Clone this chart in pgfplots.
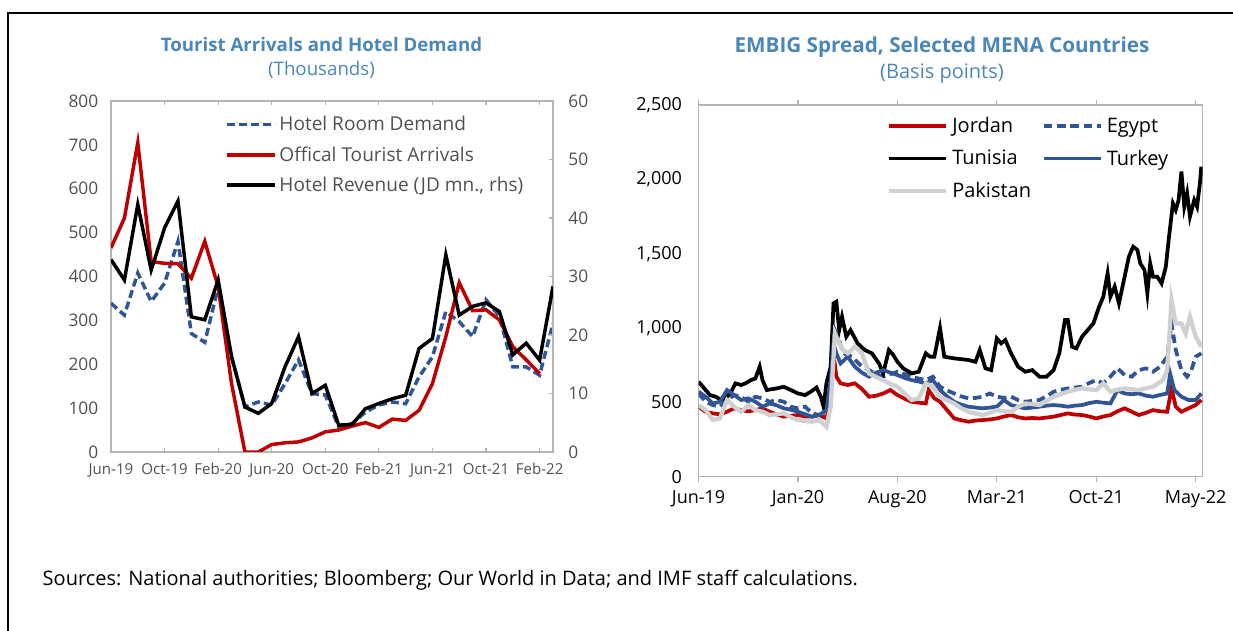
\documentclass[border=0pt]{standalone}
\usepackage{pgfplots}
\pgfplotsset{compat=1.18}
\usepackage{pgfplotstable}
\usepackage{fontspec}
\setmainfont{Open Sans}
\definecolor{tblue}{RGB}{74,134,186}
\definecolor{sred}{HTML}{C00000}
\definecolor{sblue}{HTML}{2F5597}
\definecolor{sgray}{HTML}{D0D0D0}
\definecolor{axgray}{HTML}{B4B4B4}
\definecolor{labgray}{HTML}{505050}

\pgfplotstableread{
i red blue black
0 465 339 32.9
1 533 312 29.4
2 705 408 42.3
3 434 343 31.1
4 430 385 38.3
5 429 480 42.9
6 396 270 23.1
7 480 250 22.6
8 377 375 29.4
9 156 217 16.3
10 0 103 7.7
11 0 114 6.6
12 17 107 8.3
13 21 156 14.6
14 23 210 19.7
15 32 133 10.0
16 46 130 11.4
17 50 57 4.6
18 59 65 4.7
19 67 91 7.4
20 56 107 8.3
21 75 114 9.1
22 72 110 9.7
23 95 171 17.7
24 156 217 19.4
25 263 320 33.7
26 386 297 23.4
27 322 263 24.9
28 324 347 25.5
29 301 309 24.0
30 240 194 16.6
31 210 194 18.6
32 179 175 15.7
33 nan 293 28.3
}\tourism

\begin{document}
\begin{tikzpicture}[x=0.75pt,y=0.75pt]
\useasboundingbox (0,0) rectangle (1233,631);
\draw[line width=1.8pt] (8,0) -- (8,618) -- (633,618);
\draw[line width=1.2pt] (633,618) -- (1233,618);

% titles
\node[font=\bfseries\fontsize{14}{16}\selectfont, text=tblue] at (321.5,586) {Tourist Arrivals and Hotel Demand};
\node[font=\fontsize{14}{16}\selectfont, text=tblue] at (321.5,561) {(Thousands)};
\node[font=\bfseries\fontsize{15.5}{18}\selectfont, text=tblue] at (942,584) {EMBIG Spread, Selected MENA Countries};
\node[font=\fontsize{15}{18}\selectfont, text=tblue] at (942,557) {(Basis points)};
\node[font=\fontsize{15}{17}\selectfont, anchor=west] at (38,51) {Sources: National authorities; Bloomberg; Our World in Data; and IMF staff calculations.};

% ---------- left chart, lhs
\begin{axis}[at={(83.25pt,134.25pt)}, anchor=south west, scale only axis,
  width=331.5pt, height=263.25pt,
  xmin=0, xmax=33, ymin=0, ymax=800,
  xtick={0,4,...,32},
  xticklabels={Jun-19,Oct-19,Feb-20,Jun-20,Oct-20,Feb-21,Jun-21,Oct-21,Feb-22},
  ytick={0,100,...,800},
  axis line style={draw=axgray, line width=0.9pt},
  xtick style={draw=axgray, line width=0.8pt}, major tick length=3pt, tick align=inside,
  ytick style={draw=none},
  yticklabel style={font=\fontsize{13}{15}\selectfont, text=labgray, xshift=-6pt},
  xticklabel style={font=\fontsize{11.3}{13}\selectfont, text=labgray, yshift=-5pt},
  /pgf/number format/assume math mode=true,
  clip=true,
  legend style={draw=none, fill=none, at={(0.255,0.968)}, anchor=north west,
    font=\fontsize{14.3}{16}\selectfont, text=labgray, row sep=6.2pt,
    inner sep=1pt},
  legend cell align=left,
  legend image code/.code={\draw[#1] (0pt,0pt) -- (36pt,0pt);},
]
\addplot[sblue, line width=2.6pt, dash pattern=on 6pt off 3pt] table[x=i,y=blue]{\tourism};
\addlegendentry{Hotel Room Demand}
\addplot[sred, line width=2.6pt] table[x=i,y=red]{\tourism};
\addlegendentry{Offical Tourist Arrivals}
\addlegendimage{black, line width=2.6pt}
\addlegendentry{Hotel Revenue (JD mn., rhs)}
\end{axis}
% ---------- left chart, rhs
\begin{axis}[at={(83.25pt,134.25pt)}, anchor=south west, scale only axis,
  width=331.5pt, height=263.25pt,
  xmin=0, xmax=33, ymin=0, ymax=60,
  axis y line*=right, axis x line=none,
  ytick={0,10,...,60},
  axis line style={draw=axgray, line width=0.9pt},
  ytick style={draw=axgray, line width=0.8pt}, major tick length=3pt, tick align=inside,
  tick label style={font=\fontsize{13}{15}\selectfont, text=labgray},
  yticklabel style={xshift=8pt},
  /pgf/number format/assume math mode=true,
]
\addplot[black, line width=2.6pt] table[x=i,y=black]{\tourism};
\end{axis}

% ---------- right chart
\begin{axis}[at={(523.95pt,115.7pt)}, anchor=south west, scale only axis,
  width=378.1pt, height=278.8pt,
  xmin=0, xmax=35.5, ymin=0, ymax=2500,
  xtick={0,7,...,35},
  xticklabels={Jun-19,Jan-20,Aug-20,Mar-21,Oct-21,May-22},
  ytick={0,500,...,2500},
  axis line style={draw=axgray, line width=0.9pt},
  xtick style={draw=axgray, line width=0.8pt}, major tick length=4pt, tick align=outside,
  ytick style={draw=none},
  tick label style={font=\fontsize{13.5}{15}\selectfont, text=black},
  yticklabel style={xshift=-5pt},
  xticklabel style={yshift=-3pt},
  /pgf/number format/assume math mode=true,
  /pgf/number format/1000 sep={,},
  legend style={draw=none, fill=none, at={(0.37,0.978)}, anchor=north west,
    font=\fontsize{15}{17}\selectfont, row sep=7.5pt, inner sep=1pt},
  legend columns=2,
  legend cell align=left,
  /tikz/every odd column/.append style={column sep=1pt},
  /tikz/every even column/.append style={column sep=6pt},
  legend image code/.code={\draw[#1] (0pt,0pt) -- (43pt,0pt);},
]
% Jordan
\addplot[sred, line width=2.8pt] coordinates {
(0,471)(0.5,437)(1,426)(1.5,420)(2,437)(2.5,460)(3,448)(3.5,440)(4,448)(4.5,460)(5,437)(5.5,420)(6,404)(6.5,410)(7,415)(7.5,405)(8,404)(8.5,415)(9,392)(9.3,516)(9.5,830)(9.7,673)(10,628)(10.5,617)(11,628)(11.5,590)(12,538)(12.5,545)(13,560)(13.5,583)(14,549)(14.5,525)(15,504)(15.5,498)(16,493)(16.2,583)(16.6,527)(17,504)(17.5,448)(18,392)(18.5,380)(19,370)(19.5,378)(20,381)(20.5,385)(21,392)(21.5,405)(22,415)(22.5,400)(23,392)(23.5,395)(24,392)(24.5,398)(25,404)(25.5,415)(26,426)(26.5,418)(27,415)(27.5,405)(28,392)(28.5,405)(29,415)(29.5,440)(30,460)(30.5,437)(31,415)(31.5,430)(32,448)(32.5,440)(33,437)(33.3,594)(33.6,471)(34,437)(34.5,460)(35,482)(35.4,516)};
\addlegendentry{Jordan}
% Egypt
\addplot[sblue, line width=2.8pt, dash pattern=on 6.5pt off 3.5pt] coordinates {
(0,560)(0.5,504)(1,482)(1.5,471)(2,516)(2.5,549)(3,538)(3.5,504)(4,538)(4.5,527)(5,504)(5.5,516)(6,504)(6.5,471)(7,460)(7.5,471)(8,426)(8.5,415)(9,448)(9.3,628)(9.6,986)(9.8,942)(10.2,830)(10.8,807)(11.5,740)(12,717)(12.5,690)(13,673)(13.5,690)(14,706)(14.5,690)(15,673)(15.5,660)(16,650)(16.5,673)(17,605)(17.5,580)(18,560)(18.5,540)(19,527)(19.5,530)(20,538)(20.5,560)(21,538)(21.5,530)(22,538)(22.5,516)(23,504)(23.5,510)(24,516)(24.5,540)(25,572)(25.5,585)(26,594)(26.5,600)(27,605)(27.5,630)(28,650)(28.5,628)(29,673)(29.5,729)(30,684)(30.5,673)(31,717)(31.5,729)(32,706)(32.5,740)(33,807)(33.3,1031)(33.6,852)(34,717)(34.4,673)(34.7,717)(35,807)(35.4,830)};
\addlegendentry{Egypt}
% Tunisia
\addplot[black, line width=2.8pt] coordinates {
(0,639)(0.3,605)(0.8,549)(1.2,538)(1.6,516)(2.0,538)(2.3,572)(2.6,628)(3.0,617)(3.3,628)(3.7,650)(4.0,661)(4.3,740)(4.5,650)(4.8,583)(5.5,594)(6,605)(6.5,583)(7,560)(7.5,549)(7.9,572)(8.3,600)(8.6,538)(8.8,471)(9.0,628)(9.3,740)(9.5,1166)(9.7,1177)(9.9,986)(10.1,1076)(10.4,942)(10.7,986)(11.2,897)(11.7,852)(12.2,830)(12.7,762)(13.0,695)(13.4,852)(13.7,820)(14,773)(14.4,729)(15,695)(15.5,706)(16,830)(16.3,807)(16.6,807)(17,1000)(17.3,807)(18,796)(19,785)(19.5,773)(19.8,852)(20.2,729)(20.6,717)(21.0,930)(21.3,897)(21.6,919)(22,830)(22.5,740)(23,706)(23.5,717)(24,673)(24.5,673)(25,717)(25.4,830)(25.8,1054)(26.0,1054)(26.3,874)(26.6,863)(27,942)(27.4,986)(27.8,1031)(28.2,1143)(28.5,1211)(28.8,1368)(29.0,1211)(29.3,1278)(29.6,1166)(30,1345)(30.3,1480)(30.6,1547)(30.9,1525)(31.1,1435)(31.4,1390)(31.6,1233)(31.8,1435)(32.0,1345)(32.3,1345)(32.6,1300)(32.9,1412)(33.1,1592)(33.4,1838)(33.6,1794)(33.8,1861)(34.0,2052)(34.2,1816)(34.4,1906)(34.6,1749)(34.9,1861)(35.1,1816)(35.3,1973)(35.4,2085)};
\addlegendentry{Tunisia}
% Turkey
\addplot[sblue, line width=2.8pt] coordinates {
(0,572)(0.5,538)(1,493)(1.5,504)(2,583)(2.5,549)(3,516)(3.5,527)(4,504)(4.5,471)(5,493)(5.5,480)(6,460)(6.5,450)(7,437)(7.5,420)(8,404)(8.5,415)(9,448)(9.3,650)(9.5,897)(9.7,830)(10,762)(10.5,807)(11,740)(11.5,700)(12,673)(12.5,700)(13,717)(13.5,700)(14,684)(14.5,665)(15,650)(15.5,640)(16,628)(16.5,650)(17,583)(17.5,540)(18,504)(18.5,485)(19,471)(19.5,465)(20,460)(20.5,465)(21,471)(21.5,516)(22,482)(22.5,470)(23,460)(23.5,465)(24,471)(24.5,478)(25,482)(25.5,478)(26,471)(26.5,478)(27,482)(27.5,495)(28,504)(28.5,498)(29,493)(29.5,583)(30,560)(30.5,555)(31,560)(31.5,545)(32,538)(32.5,550)(33,560)(33.2,695)(33.5,583)(34,538)(34.5,516)(35,516)(35.4,560)};
\addlegendentry{Turkey}
% Pakistan
\addplot[sgray, line width=3.2pt] coordinates {
(0,482)(0.5,448)(1,381)(1.5,392)(2,516)(2.5,471)(3,437)(3.5,482)(4,448)(4.5,437)(5,415)(5.5,420)(6,426)(6.5,400)(7,381)(7.5,375)(8,370)(8.5,381)(9,336)(9.3,471)(9.6,964)(9.9,897)(10.2,850)(10.5,830)(11,874)(11.5,830)(12,695)(12.5,670)(13,650)(13.5,625)(14,605)(14.5,560)(15,516)(15.5,527)(16,628)(16.5,605)(17,538)(17.5,515)(18,493)(18.5,460)(19,437)(19.5,425)(20,415)(20.5,430)(21,448)(21.5,440)(22,437)(22.5,470)(23,493)(23.5,488)(24,482)(24.5,510)(25,538)(25.5,555)(26,572)(26.5,585)(27,594)(27.5,588)(28,583)(28.5,628)(29,572)(29.5,585)(30,594)(30.5,588)(31,583)(31.5,595)(32,605)(32.7,650)(33,717)(33.3,1188)(33.6,1031)(34,1031)(34.3,964)(34.6,1076)(35,942)(35.4,874)};
\addlegendentry{Pakistan}
\end{axis}
\end{tikzpicture}
\end{document}
